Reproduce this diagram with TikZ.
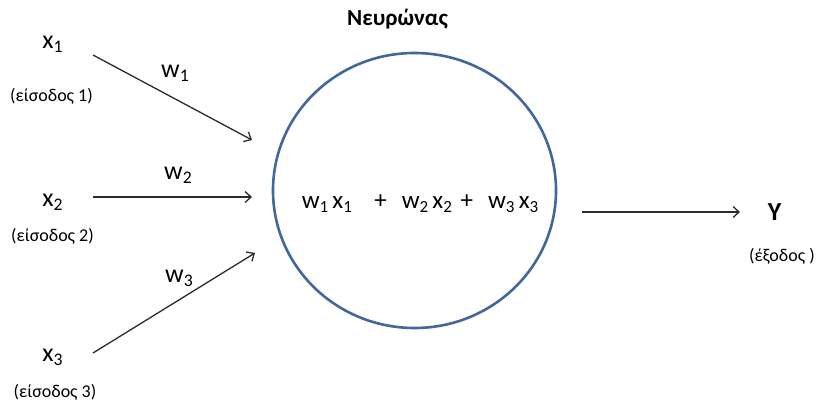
\documentclass[tikz,border=0pt]{standalone}
\usepackage{fontspec}
\setmainfont{Carlito}
\usetikzlibrary{arrows.meta,shapes.geometric}
\newcommand\lsub[1]{\raisebox{-0.19em}{\scalebox{0.68}{#1}}}
\definecolor{neuronblue}{HTML}{41679B}
\definecolor{arrowgray}{HTML}{2B2B2B}
\begin{document}
\begin{tikzpicture}[x=1pt,y=-1pt,
  lbl/.style={anchor=base,inner sep=0pt,text=black},
  big/.style={lbl,font=\fontsize{26}{30}\selectfont},
  small/.style={lbl,font=\fontsize{18}{22}\selectfont},
  conn/.style={draw=arrowgray,line width=1.3pt,-{Straight Barb[length=6pt,width=11pt,line width=1.3pt]}}]
\useasboundingbox (0,0) rectangle (817,402);
% neuron
\node[draw=neuronblue,line width=2.6pt,ellipse,minimum width=283pt,minimum height=275pt,inner sep=0pt] (neuron) at (414.5,190.5) {};
\node[lbl,font=\bfseries\fontsize{23}{27}\selectfont] (title) at (397.5,25) {Νευρώνας};
\node[lbl,font=\fontsize{25}{30}\selectfont] (sum) at (420,208)
  {w\lsub{1}\,x\lsub{1}\hspace{0.9em}+\hspace{0.6em}w\lsub{2}\,x\lsub{2}\hspace{0.35em}+\hspace{0.6em}w\lsub{3}\,x\lsub{3}};
% inputs
\node[big] (x1) at (52.5,48) {x\lsub{1}};
\node[small] (in1) at (51.5,101) {(είσοδος 1)};
\node[big] (x2) at (52.5,206) {x\lsub{2}};
\node[small] (in2) at (52.5,241) {(είσοδος 2)};
\node[big] (x3) at (52.5,361) {x\lsub{3}};
\node[small] (in3) at (55,397) {(είσοδος 3)};
% weights
\node[big] (w1) at (175,77) {w\lsub{1}};
\node[big] (w2) at (178,179) {w\lsub{2}};
\node[big] (w3) at (179,282) {w\lsub{3}};
% output
\node[lbl,font=\bfseries\fontsize{26}{30}\selectfont] (y) at (774.5,220) {Y};
\node[small] (out) at (782,261) {(έξοδος )};
% connector endpoints
\coordinate (s1) at (93,55);
\coordinate (e1) at (252,140);
\coordinate (s2) at (93,197);
\coordinate (e2) at (252,197);
\coordinate (s3) at (93,353);
\coordinate (e3) at (255,253);
\coordinate (so) at (582,212);
\coordinate (eo) at (740,212);
\draw[conn] (s1) -- (e1);
\draw[conn] (s2) -- (e2);
\draw[conn] (s3) -- (e3);
\draw[conn] (so) -- (eo);
\end{tikzpicture}
\end{document}
